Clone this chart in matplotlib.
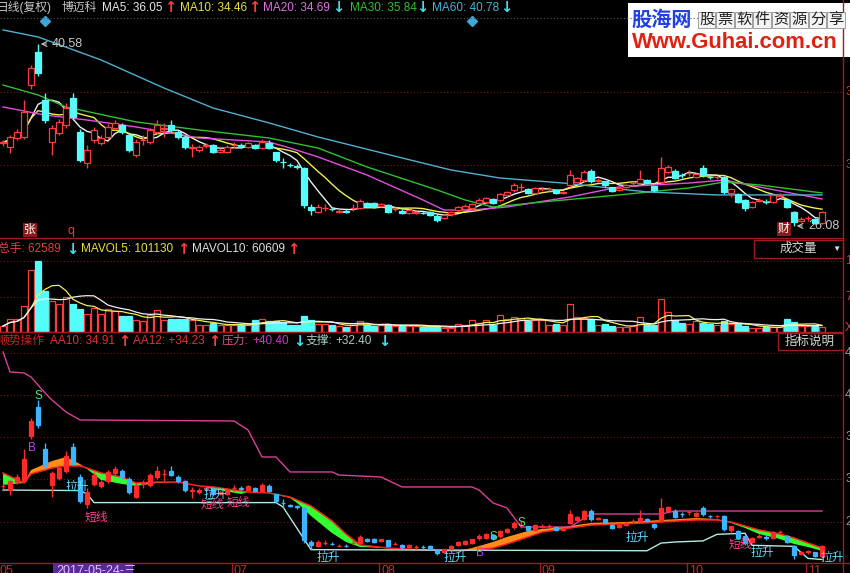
import numpy as np
import pandas as pd
import matplotlib
matplotlib.use('Agg')
import matplotlib.pyplot as plt
from matplotlib.lines import Line2D
from matplotlib.patches import Rectangle

plt.rcParams['font.family'] = ['Liberation Sans', 'Noto Sans CJK SC', 'DejaVu Sans']

W, H = 850, 573

# 博迈科 日线 2017-05-15 .. 2017-11-03 (118 trading days)
open_ = [32.70, 32.37, 33.09, 33.17, 37.31, 39.94, 36.12, 32.77, 33.49, 34.13,
         36.28, 33.57, 31.10, 32.93, 32.69, 33.17, 33.89, 34.13, 33.33, 31.74,
         32.90, 32.77, 33.57, 33.80, 34.13, 33.57, 33.17, 32.30, 32.14, 32.45,
         32.53, 31.98, 31.98, 32.50, 32.50, 32.37, 32.53, 32.29, 32.69, 31.98,
         31.20, 30.95, 30.85, 30.70, 27.62, 27.22, 27.50, 27.45, 27.20, 27.24,
         27.50, 27.51, 27.91, 27.91, 27.67, 27.75, 27.40, 27.30, 27.11, 27.14,
         27.15, 27.22, 26.90, 26.72, 27.03, 27.35, 27.43, 27.51, 27.94, 28.01,
         28.23, 28.15, 28.55, 28.95, 29.15, 29.03, 28.71, 29.00, 29.03, 28.95,
         28.71, 29.35, 29.61, 29.74, 30.46, 29.70, 29.66, 29.19, 28.95, 29.19,
         29.50, 29.53, 29.74, 29.27, 29.61, 30.40, 30.46, 30.14, 30.30, 29.98,
         30.70, 29.98, 29.98, 29.98, 28.71, 28.63, 28.15, 27.62, 28.10, 28.01,
         28.01, 28.50, 28.15, 27.22, 26.50, 26.72, 26.64, 26.32]
close = [32.74, 33.17, 33.57, 35.16, 38.67, 38.27, 34.52, 33.89, 34.36, 35.48,
         34.76, 31.34, 32.14, 33.73, 33.09, 33.97, 34.28, 33.57, 32.14, 32.77,
         32.95, 33.73, 34.13, 33.85, 33.73, 33.17, 32.37, 32.35, 32.37, 32.55,
         31.98, 32.14, 32.37, 32.52, 32.45, 32.69, 32.29, 32.77, 32.29, 31.34,
         31.15, 30.90, 30.80, 27.75, 27.35, 27.59, 27.52, 27.41, 27.26, 27.20,
         27.52, 28.09, 27.67, 27.62, 27.83, 27.22, 27.45, 27.11, 27.35, 27.16,
         27.13, 26.95, 26.56, 26.95, 27.22, 27.62, 27.67, 27.83, 28.15, 28.31,
         27.94, 28.63, 28.81, 29.35, 29.17, 28.71, 29.11, 29.05, 29.03, 28.73,
         28.81, 30.14, 29.90, 30.40, 29.66, 29.76, 29.35, 28.89, 29.11, 29.35,
         29.51, 29.82, 29.50, 28.95, 30.70, 30.80, 29.90, 30.12, 30.32, 30.22,
         30.14, 29.96, 30.00, 28.81, 29.03, 28.01, 27.51, 28.01, 28.15, 28.00,
         28.55, 28.55, 27.62, 26.42, 26.64, 26.74, 26.32, 27.19]
high = [32.95, 33.30, 33.80, 36.12, 38.90, 40.58, 36.67, 34.10, 34.60, 35.90,
        36.67, 33.80, 32.50, 34.00, 33.30, 34.20, 34.50, 34.30, 33.50, 33.00,
        33.30, 33.90, 34.52, 34.30, 34.50, 33.70, 33.30, 32.60, 32.50, 32.70,
        32.60, 32.30, 32.50, 32.80, 32.70, 32.80, 32.60, 33.00, 32.90, 32.00,
        31.50, 31.10, 31.00, 30.80, 27.80, 27.80, 27.80, 27.60, 27.40, 27.40,
        27.80, 28.20, 28.00, 28.00, 27.90, 27.80, 27.60, 27.40, 27.40, 27.30,
        27.30, 27.30, 27.00, 27.00, 27.30, 27.70, 27.80, 27.90, 28.30, 28.40,
        28.30, 28.70, 28.90, 29.50, 29.50, 29.10, 29.20, 29.20, 29.20, 29.00,
        28.90, 30.54, 30.00, 30.50, 30.60, 29.90, 29.70, 29.20, 29.20, 29.40,
        29.70, 30.54, 29.80, 29.30, 31.60, 30.90, 30.60, 30.30, 30.50, 30.30,
        30.90, 30.10, 30.10, 30.10, 29.10, 28.70, 28.20, 28.10, 28.30, 28.20,
        28.60, 28.70, 28.20, 27.30, 26.80, 26.90, 26.70, 27.30]
low = [32.45, 31.90, 32.90, 33.00, 37.00, 38.00, 34.30, 31.74, 33.30, 33.90,
       34.60, 31.20, 30.70, 32.70, 32.50, 33.00, 33.70, 33.40, 32.00, 31.60,
       32.50, 32.60, 33.40, 33.20, 33.60, 33.00, 32.20, 31.60, 32.00, 32.30,
       31.90, 31.90, 31.90, 32.30, 32.30, 32.30, 32.20, 32.20, 32.20, 31.20,
       30.70, 30.80, 30.60, 27.50, 26.95, 27.10, 27.30, 27.30, 27.10, 27.10,
       27.30, 27.40, 27.60, 27.50, 27.60, 27.10, 27.30, 27.00, 27.00, 27.00,
       27.00, 26.90, 26.40, 26.60, 26.90, 27.20, 27.30, 27.40, 27.80, 27.90,
       27.80, 28.00, 28.40, 28.80, 28.90, 28.60, 28.60, 28.90, 28.90, 28.60,
       28.60, 29.20, 29.50, 29.60, 29.50, 29.60, 29.20, 28.80, 28.90, 29.10,
       29.30, 29.40, 29.40, 28.80, 29.50, 30.30, 29.80, 29.90, 30.10, 29.90,
       30.00, 29.80, 29.80, 28.60, 28.40, 27.90, 27.30, 27.50, 28.00, 27.80,
       27.90, 28.40, 27.50, 26.08, 26.40, 26.50, 26.20, 26.20]
volume = [12000, 26000, 26000, 52000, 124000, 142000, 82000, 62589, 56000, 70000,
          56000, 46000, 36000, 48000, 36000, 46000, 42000, 32000, 32000, 24000,
          22000, 34000, 44000, 24000, 26000, 26000, 26000, 24000, 14000, 14000,
          18000, 14000, 14000, 14000, 14000, 14000, 24000, 26000, 22000, 22000,
          20000, 14000, 14000, 32000, 24000, 16000, 16000, 14000, 12000, 10000,
          14000, 22000, 14000, 12000, 14000, 16000, 12000, 12000, 12000, 12000,
          10000, 10000, 12000, 8000, 8000, 16000, 14000, 24000, 18000, 24000,
          14000, 34000, 26000, 30000, 28000, 22000, 24000, 24000, 14000, 16000,
          14000, 56000, 30000, 28000, 26000, 14000, 16000, 12000, 10000, 10000,
          12000, 30000, 16000, 14000, 66000, 40000, 24000, 18000, 16000, 22000,
          18000, 16000, 14000, 22000, 16000, 16000, 12000, 8000, 8000, 10000,
          10000, 10000, 26000, 20000, 12000, 12000, 12000, 10000]

# longer moving averages (history before the window is not in the picture)
ma20_day = [0, 6, 12, 19, 28, 38, 41, 45, 52, 60, 63, 67, 72, 81, 88, 98, 103, 108, 117]
ma20_val = [35.56, 34.92, 34.52, 33.97, 33.09, 32.77, 32.29, 31.58, 30.14, 28.15,
            27.35, 27.35, 27.59, 28.39, 29.19, 29.50, 29.74, 29.19, 28.23]
ma30_day = [0, 5, 9, 19, 28, 38, 45, 52, 62, 66, 70, 77, 88, 98, 103, 108, 117]
ma30_val = [37.31, 36.52, 35.56, 34.37, 33.73, 33.09, 32.29, 30.78, 28.95, 28.15,
            27.59, 27.99, 28.55, 29.11, 29.58, 29.35, 28.71]
ma60_day = [0, 5, 14, 23, 30, 38, 45, 57, 64, 71, 80, 92, 102, 117]
ma60_val = [41.70, 41.14, 39.31, 37.07, 35.48, 34.29, 33.17, 31.50, 30.54, 29.90,
            29.50, 28.79, 28.55, 28.55]

# 顺势操作 indicator
band_day = [0, 3, 4, 7, 9, 11, 12, 14, 17, 19, 22, 25, 28, 30, 34, 35, 38, 41, 42, 44,
            47, 49, 51, 55, 60, 65, 67, 70, 72, 75, 77, 80, 84, 89, 94, 99, 102, 104,
            106, 108, 111, 113, 115, 117]
aa10 = [32.81, 32.99, 34.18, 35.00, 35.37, 34.73, 34.27, 33.27, 32.90, 32.72,
        32.99, 33.08, 32.72, 32.44, 31.99, 32.17, 32.08, 31.62, 31.17, 29.98,
        28.42, 27.60, 27.14, 27.05, 26.87, 26.78, 27.05, 27.60, 28.06, 28.61,
        28.79, 28.97, 29.34, 29.43, 29.61, 29.79, 29.70, 29.34, 28.88, 28.33,
        27.87, 27.42, 27.14, 26.78]
aa12 = [33.91, 32.99, 33.82, 34.36, 34.55, 34.55, 34.36, 33.91, 33.54, 32.99,
        33.08, 33.08, 32.72, 32.63, 32.26, 32.17, 32.08, 31.71, 31.44, 30.89,
        29.52, 28.33, 27.33, 27.05, 26.87, 26.78, 26.87, 27.05, 27.42, 28.06,
        28.51, 28.79, 29.15, 29.25, 29.43, 29.61, 29.61, 29.43, 29.06, 28.70,
        28.33, 27.97, 27.51, 27.05]
press_day = [0, 1, 3, 4, 6, 7, 9, 11, 33, 35, 37, 39, 41, 47, 48, 54, 57, 67, 68, 70,
             72, 74, 81, 84, 94, 96, 117]
press_val = [44.97, 43.14, 43.05, 42.68, 41.22, 40.58, 39.48, 38.75, 38.66, 37.84,
             35.37, 35.37, 34.00, 34.00, 33.72, 33.54, 32.63, 32.63, 32.35, 31.17,
             30.71, 28.97, 28.97, 30.16, 30.16, 30.43, 30.43]
supp_day = [0, 11, 12, 13, 39, 40, 44, 92, 94, 96, 100, 102, 106, 107, 113, 115, 117]
supp_val = [32.35, 32.30, 32.00, 31.20, 31.20, 30.80, 26.90, 26.80, 27.50, 27.60,
            27.70, 28.30, 28.40, 27.30, 27.20, 26.10, 26.00]

signal_text = ['S', 'B', '拉升', '短线', '拉升', '短线', '短线', '拉升', '拉升', 'B',
               'S', 'S', '拉升', '短线', '拉升', '拉升']
signal_day = [5.1, 4.1, 10.6, 13.4, 30.3, 29.9, 33.6, 46.4, 64.6, 68.1,
              70.0, 74.1, 90.6, 105.3, 108.4, 118.4]
signal_val = [40.95, 36.2, 32.63, 29.79, 31.9, 30.98, 31.17, 26.14, 26.14, 26.6,
              28.06, 29.34, 27.97, 27.33, 26.6, 26.14]

month_day = [0, 33, 54, 77, 98, 115]
month_lbl = ['05', '07', '08', '09', '10', '11']
info_day = [6, 67]

sig_color = {'S': '#50e080', 'B': '#c040ff', '拉升': '#60d8ff', '短线': '#ff4090'}

x = np.arange(len(close))
op = np.array(open_)
cl = np.array(close)
hi = np.array(high)
lo = np.array(low)
up = cl >= op

ma5 = pd.Series(close).rolling(5, min_periods=1).mean()
ma10 = pd.Series(close).rolling(10, min_periods=1).mean()
mv5 = pd.Series(volume).rolling(5, min_periods=1).mean()
mv10 = pd.Series(volume).rolling(10, min_periods=1).mean()

RED = '#ff3c3c'
CYAN = '#54fcfc'
FRAME = '#a01c1c'
GRID = '#7a1414'
DOWN = '#40e0f0'

fig = plt.figure(figsize=(W / 100, H / 100), dpi=100, facecolor='black')


def px_axes(x0, y0, x1, y1):
    ax = fig.add_axes([x0 / W, 1 - y1 / H, (x1 - x0) / W, (y1 - y0) / H])
    ax.set_facecolor('black')
    ax.set_xlim(-0.43, 120)
    for s in ax.spines.values():
        s.set_visible(False)
    ax.set_xticks([])
    ax.set_yticks([])
    return ax


def ftext(xp, yp, s, color, size=8.5, **kw):
    fig.text(xp / W, 1 - yp / H, s, color=color, fontsize=size, va='center', **kw)


def arrow(xp, yp, s, color):
    # 通达信 style heavy arrow after each value
    fig.text(xp / W, 1 - yp / H, s, color=color, fontsize=10.5, va='center',
             family=['DejaVu Sans'], weight='bold')


def fline(xs, ys, color=FRAME, lw=1.0, ls='-'):
    fig.add_artist(Line2D([v / W for v in xs], [1 - v / H for v in ys],
                          color=color, lw=lw, ls=ls))


def candles(ax, up_face, up_edge, dn_color, width):
    cols = np.where(up, up_edge, dn_color)
    ax.vlines(x, lo, hi, colors=cols, lw=1, zorder=3)
    body = np.maximum(np.abs(cl - op), 0.02)
    ax.bar(x, body, bottom=np.minimum(op, cl), width=width,
           color=np.where(up, up_face, dn_color), edgecolor=cols, lw=0.9, zorder=4)


def right_ticks(ax, vals, labels, color):
    for v, s in zip(vals, labels):
        ax.axhline(v, color=GRID, lw=0.8, ls=(0, (1, 2)), zorder=0)
        ax.text(1.0025, v, s, transform=ax.get_yaxis_transform(), color=color,
                fontsize=9, va='center', ha='left')


# ---------------- main price panel ----------------
ax1 = px_axes(0, 18, 843, 238)
ax1.set_ylim(25.12, 42.65)
right_ticks(ax1, [36.76, 30.94], ['36.76', '30.94'], '#d04040')
ax1.plot(x, ma5, color='#f0f0f0', lw=1, zorder=2)
ax1.plot(x, ma10, color='#f0f050', lw=1, zorder=2)
ax1.plot(ma20_day, ma20_val, color='#e050e0', lw=1, zorder=2)
ax1.plot(ma30_day, ma30_val, color='#30c030', lw=1, zorder=2)
ax1.plot(ma60_day, ma60_val, color='#50b0d0', lw=1, zorder=2)
candles(ax1, 'black', RED, CYAN, 0.72)
ax1.plot(info_day, [0.985] * len(info_day), 'D', color='#40a8d8', ms=5,
         transform=ax1.get_xaxis_transform(), clip_on=False)
imax, imin = int(np.argmax(hi)), int(np.argmin(lo))
ax1.annotate(f'{hi[imax]:.2f}', xy=(imax, hi[imax]), xytext=(imax + 2, hi[imax]),
             color='#c8c8c8', fontsize=9, va='center',
             arrowprops=dict(arrowstyle='->', color='#c8c8c8', lw=0.8))
ax1.annotate(f'{lo[imin]:.2f}', xy=(imin, lo[imin]), xytext=(imin + 2, lo[imin]),
             color='#c8c8c8', fontsize=9, va='center',
             arrowprops=dict(arrowstyle='->', color='#c8c8c8', lw=0.8))

# ---------------- volume panel ----------------
ax2 = px_axes(0, 240, 843, 332)
ax2.set_ylim(0, 184000)
right_ticks(ax2, [142000, 71000], ['142000', '71000'], '#d04040')
ax2.text(1.0025, 8000, 'X10', transform=ax2.get_yaxis_transform(), color='#d04040',
         fontsize=9, va='center')
ax2.bar(x, volume, width=0.72, color=np.where(up, 'black', CYAN),
        edgecolor=np.where(up, RED, CYAN), lw=0.9, zorder=3)
ax2.plot(x, mv5, color='#f0f060', lw=0.9, zorder=4)
ax2.plot(x, mv10, color='#f0f0f0', lw=0.9, zorder=4)

# ---------------- 顺势操作 panel ----------------
ax3 = px_axes(0, 333, 843, 563)
ax3.set_ylim(25.68, 46.70)
right_ticks(ax3, [44.90, 41.04, 37.18, 33.32, 29.46],
            ['44.90', '41.04', '37.18', '33.32', '29.46'], '#9a9ab0')
f10, f12 = np.array(aa10), np.array(aa12)
ax3.fill_between(band_day, f10, f12, where=f10 >= f12, interpolate=True,
                 color='#ff8c1a', lw=0, zorder=1)
ax3.fill_between(band_day, f10, f12, where=f10 <= f12, interpolate=True,
                 color='#30ff30', lw=0, zorder=1)
ax3.plot(band_day, aa12, color='#ff2020', lw=1.1, zorder=2)
ax3.plot(press_day, press_val, color='#d8409a', lw=1, zorder=2)
ax3.plot(supp_day, supp_val, color='#b0ece4', lw=1, zorder=2)
candles(ax3, '#ff2a2a', '#ff2a2a', '#3cb4ff', 0.6)
for s, d, v in zip(signal_text, signal_day, signal_val):
    ax3.text(d, v, s, color=sig_color[s], fontsize=8.5, ha='center', va='center',
             zorder=6, clip_on=False)

# ---------------- frames ----------------
fline([0, 843], [238, 238])
fline([0, 843], [332, 332])
fline([0, 850], [563, 563])
fline([843, 843], [0, 573])
fline([0, 843], [18, 18], color='#4a5a66', lw=0.8, ls=(0, (1, 2)))

# header rows
ftext(-3, 8, '日线(复权)', '#c8c8c8')
ftext(62, 8, '博迈科', '#c8c8c8')
ftext(102, 8, 'MA5: 36.05', '#e8e8e8')
arrow(164, 8, '↑', RED)
ftext(180, 8, 'MA10: 34.46', '#e8e040')
arrow(248, 8, '↑', RED)
ftext(263, 8, 'MA20: 34.69', '#e070e0')
arrow(332, 8, '↓', DOWN)
ftext(350, 8, 'MA30: 35.84', '#30c030')
arrow(416, 8, '↓', DOWN)
ftext(432, 8, 'MA60: 40.78', '#40b8d8')
arrow(500, 8, '↓', DOWN)

ftext(-2, 249, '总手: 62589', '#e04040')
arrow(66, 249, '↓', DOWN)
ftext(81, 249, 'MAVOL5: 101130', '#e8e040')
arrow(177, 249, '↑', RED)
ftext(192, 249, 'MAVOL10: 60609', '#e0e0e0')
arrow(287, 249, '↑', RED)

ftext(-2, 341, '顺势操作', '#d02020')
ftext(50, 341, 'AA10: 34.91', '#e03030')
arrow(118, 341, '↑', RED)
ftext(133, 341, 'AA12: +34.23', '#e03030')
arrow(208, 341, '↑', RED)
ftext(222, 341, '压力:', '#e05090')
ftext(252, 341, '+40.40', '#d030d0')
arrow(293, 341, '↓', DOWN)
ftext(306, 341, '支撑:', '#a0d0c0')
ftext(335, 341, '+32.40', '#a0d0c0')
arrow(378, 341, '↓', DOWN)

# small boxed tags
ftext(24, 230, '张', 'white', size=8.5, bbox=dict(boxstyle='square,pad=0.1', fc='#8b1a1a', ec='none'))
ftext(68, 231, 'q', '#ff3030', size=9)
ftext(778, 229, '财', 'white', size=8.5, bbox=dict(boxstyle='square,pad=0.1', fc='#8b1a1a', ec='none'))

# 成交量 / 指标说明 boxes
fig.add_artist(Rectangle((754 / W, 1 - 258 / H), 89 / W, 18 / H, fill=False, ec=FRAME, lw=1))
ftext(780, 249, '成交量', '#d8d8d8', size=9)
ftext(832, 249, '▼', '#d8d8d8', size=6)
fig.add_artist(Rectangle((778 / W, 1 - 350 / H), 65 / W, 17 / H, fill=False, ec=FRAME, lw=1))
ftext(785, 342, '指标说明', '#d8d8d8', size=9)

# date axis
for d, s in zip(month_day, month_lbl):
    xp = 3 + 7 * d
    if d > 0:
        fline([xp - 2, xp - 2], [563, 573], lw=1)
    ftext(xp - 3 if d == 0 else xp, 571, s, '#c03030', size=9)
fig.add_artist(Rectangle((53 / W, 0), 80 / W, 9 / H, fc='#5a2a9a', ec='none'))
ftext(56, 571, '2017-05-24-三', '#e0c0ff', size=9)

# watermark
fig.add_artist(Rectangle((628 / W, 1 - 57 / H), 222 / W, 54 / H, fc='white', ec='none'))
ftext(631, 20, '股海网', '#2040e0', size=14.5, weight='bold')
for k, ch in enumerate('股票软件资源分享'):
    ftext(699 + k * 18.5, 20, ch, '#202020', size=11,
          bbox=dict(boxstyle='square,pad=0.08', fc='#f4f4f4', ec='#909090', lw=0.6))
ftext(632, 43, 'Www.Guhai.com.cn', '#e02010', size=15.8, weight='bold')

fig.savefig('out.png', dpi=100, facecolor='black')
